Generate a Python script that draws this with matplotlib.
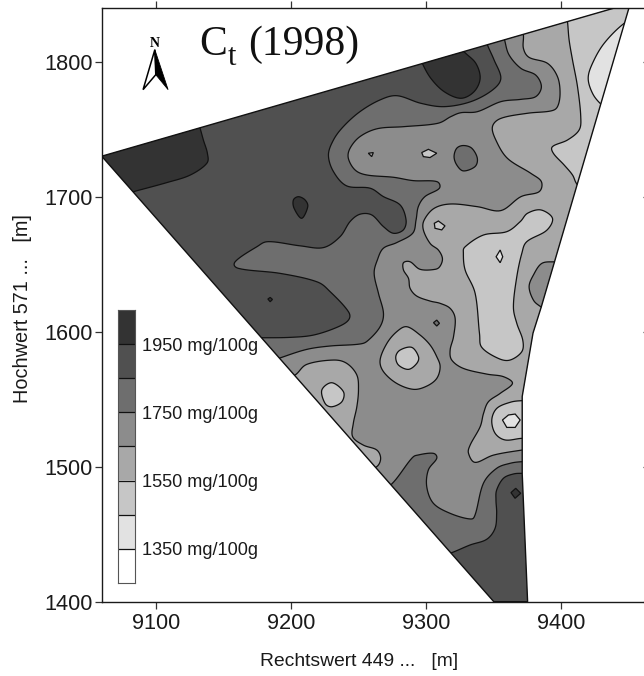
import numpy as np
import matplotlib
matplotlib.use("Agg")
import matplotlib.pyplot as plt
from matplotlib.patches import Polygon

plt.rcParams['font.family'] = ['Liberation Sans', 'DejaVu Sans']

x_ticks = [9100, 9200, 9300, 9400]
y_ticks = [1400, 1500, 1600, 1700, 1800]
legend_edges = [1250, 1350, 1450, 1550, 1650, 1750, 1850, 1950, 2050]
legend_labels = {1350: '1350 mg/100g', 1550: '1550 mg/100g', 1750: '1750 mg/100g', 1950: '1950 mg/100g'}
shades = ['#ffffff', '#e2e2e2', '#c6c6c6', '#a8a8a8', '#8c8c8c', '#6e6e6e', '#505050', '#333333']
S1, S2, S3, S4, S5, S6, S7, S8 = shades

field = [(9060, 1730), (9440, 1840), (9450, 1840), (9385, 1618), (9379, 1599), (9371, 1552),
         (9371, 1495), (9375, 1400), (9350, 1400)]

corner_dark = [(9130, 1760), (9132.7, 1751), (9135.2, 1742), (9138.2, 1732), (9137.7, 1724.7), (9125.4, 1716),
               (9108, 1710.4), (9083.4, 1703.7), (9070, 1700)]
corner_dark_out = [(9040, 1700), (9040, 1760)]

top_dark = [(9295, 1805), (9297, 1799), (9303.4, 1787.7), (9313.3, 1777.8), (9325.6, 1772.9), (9335.4, 1777.8),
            (9339.9, 1787.7), (9336.7, 1798.8), (9328, 1807.4), (9322, 1815)]

s6_upper = [(9343, 1820), (9345.3, 1812.4), (9350.2, 1801.3), (9355.2, 1787.7), (9349, 1779), (9333, 1770.4),
            (9313.3, 1766.7), (9296, 1769.2), (9278.5, 1774.8), (9265.9, 1771.7), (9251, 1763), (9238.7, 1751.9),
            (9231.4, 1742), (9227.7, 1730.9), (9231.4, 1718.6), (9241.2, 1708), (9258.5, 1706.3), (9268.3, 1700.1),
            (9280.7, 1693.9), (9285.1, 1682.8), (9283.1, 1675.4), (9275.7, 1672.9), (9268.3, 1677.9), (9259.7, 1686.5),
            (9251, 1687), (9243.7, 1681.6), (9236.3, 1670.4), (9224, 1662.3), (9206.8, 1663.6), (9183.3, 1666.7),
            (9174.7, 1662.9), (9158.7, 1651.8), (9161.2, 1646.9), (9192, 1643.2), (9219.1, 1637), (9229, 1629.6),
            (9242.5, 1614.8), (9242.5, 1608.6), (9233.9, 1603.2), (9216.6, 1597.5), (9199.4, 1595.8), (9178.4, 1595.5),
            (9165, 1595.5)]
s6_out1 = [(9165, 1590), (9290, 1445), (9305, 1432)]
s6_lower = [(9305, 1432), (9318.8, 1436.3), (9332.4, 1442), (9344.7, 1446.2), (9350.9, 1454.3), (9352.1, 1465.5),
            (9351.6, 1475.3), (9352.1, 1482.7), (9357.1, 1491.4), (9364.5, 1494.6), (9371.4, 1495.1), (9385, 1495)]
s6_out2 = [(9480, 1495), (9480, 1860), (9343, 1860)]

s5_upper = [(9356, 1825), (9358.1, 1815.6), (9361.3, 1805), (9370, 1795.1), (9381, 1790.1), (9385.2, 1781.5),
            (9381, 1774.1), (9370, 1772.1), (9355.2, 1770.4), (9337.9, 1763), (9325.6, 1762.2), (9318.2, 1759.3),
            (9308.3, 1754.3), (9283.7, 1751.9), (9264, 1750.4), (9251, 1744.5), (9243.7, 1735.9), (9242.4, 1728.5),
            (9247.4, 1719.8), (9256, 1716.1), (9275.7, 1714.4), (9290.5, 1711.9), (9307.8, 1711.2), (9309.7, 1706.2),
            (9299.1, 1700.1), (9294.2, 1692.7), (9292.5, 1682.8), (9290, 1672.9), (9278.2, 1666), (9268.3, 1661.8),
            (9263.9, 1653.2), (9261.5, 1643.2), (9264.7, 1628.4), (9268.4, 1613.6), (9265.9, 1603.7), (9257.3, 1593.8),
            (9251.1, 1590.9), (9228.9, 1589.4), (9211.7, 1586.9), (9193.2, 1581), (9180, 1576)]
s5_out1 = [(9175, 1570), (9255, 1478), (9262, 1480)]
s5_lower = [(9262, 1480), (9274.5, 1487.2), (9289.3, 1506.2), (9294.2, 1508.7), (9305.3, 1509.9), (9307.8, 1506.2),
            (9301.6, 1497.6), (9300.4, 1485.2), (9305.3, 1472.9), (9317.6, 1465.5), (9332.4, 1461.3), (9336.1, 1464.2),
            (9342.3, 1487.7), (9352.1, 1498.8), (9362, 1502.5), (9370.6, 1503.7), (9385, 1504)]
s5_out2 = [(9480, 1504), (9480, 1860), (9356, 1860)]

s4_main = [(9370, 1830), (9371.9, 1819.8), (9371.9, 1809.9), (9376.1, 1803.2), (9389.7, 1798.8), (9397.1, 1788.9),
           (9399, 1776.6), (9397.1, 1766.7), (9392.1, 1763.5), (9374.9, 1761.8), (9355.2, 1758), (9349, 1751.9),
           (9351.5, 1742), (9360.1, 1728.4), (9377.4, 1717.3), (9385.2, 1711.1), (9383.5, 1703.7), (9370, 1700),
           (9355.2, 1689.7), (9337.9, 1692.6), (9318.2, 1694.6), (9305.9, 1691.4), (9298.5, 1682.7), (9297.9, 1675.4),
           (9302.9, 1665.4), (9309, 1660.5), (9312, 1654.3), (9310.3, 1648.6), (9306.6, 1646.2), (9295.5, 1646.2),
           (9288.1, 1651.8), (9283.2, 1651.1), (9283.2, 1645.7), (9286.9, 1639.5), (9288.1, 1632.1), (9293, 1626.4),
           (9302.9, 1622.7), (9310.3, 1621), (9317.7, 1617.3), (9321.4, 1609.9), (9320.2, 1596.3), (9317.7, 1586.4),
           (9318.9, 1579), (9327.5, 1572.8), (9344.8, 1568.6), (9357.1, 1566.7), (9363.8, 1561.7), (9354.7, 1554.3),
           (9346, 1548.1), (9342.4, 1539.5), (9339.9, 1529.6), (9332.5, 1516), (9331.3, 1509.9), (9336.2, 1503.2),
           (9349.8, 1508.6), (9370.7, 1512.3), (9385, 1514)]
s4_main_out = [(9480, 1514), (9480, 1860), (9370, 1860)]

s5_right = [(9405, 1652), (9395.3, 1651.8), (9385.5, 1650.6), (9379.3, 1642), (9376.1, 1633.3), (9379.3, 1623.4),
            (9384.7, 1618.5), (9395, 1612)]
s5_right_out = [(9410, 1612), (9410, 1652)]

s4_island = [(9285.6, 1603.7), (9295.5, 1597.5), (9302.9, 1590.1), (9307.8, 1581.5), (9310.3, 1574.1), (9307.8, 1565.4),
             (9300.4, 1559.7), (9290.6, 1557.3), (9278.2, 1561.7), (9268.4, 1570.4), (9265.9, 1579), (9270.9, 1591.3),
             (9278.2, 1600)]
s3_island = [(9277.5, 1581.5), (9280.7, 1586.4), (9289.3, 1588.4), (9294.3, 1581.5), (9293, 1576.5), (9286.9, 1572.1),
             (9279.5, 1575.3)]

s4_lower_left = [(9190, 1562), (9203, 1567.9), (9211.7, 1575.8), (9231.4, 1579), (9241.3, 1576.5), (9248.7, 1567.9),
                 (9249.9, 1556.8), (9248.7, 1544.4), (9246.1, 1532.1), (9245.6, 1522.2), (9253.5, 1516), (9263.4, 1512.4),
                 (9266.3, 1506.2), (9263.4, 1500), (9252, 1495)]
s3_lower_left = [(9222.8, 1556.8), (9230.2, 1562.2), (9238.8, 1555.5), (9237.6, 1548.1), (9230.2, 1544.4), (9225.2, 1546.9)]

s3_big = [(9328.8, 1662.9), (9342.3, 1671.6), (9359.6, 1674.1), (9369.5, 1681.5), (9374.9, 1687.7), (9384.8, 1690.2),
          (9393.4, 1684), (9389, 1675), (9374.4, 1666.7), (9370.7, 1658), (9367, 1640.7), (9364.5, 1618.5),
          (9367, 1606.2), (9371.4, 1593.8), (9370.7, 1585.2), (9362, 1579), (9353.4, 1580.2), (9341.1, 1588.4),
          (9339.4, 1598.8), (9336.2, 1628.4), (9328.8, 1645.7), (9327.5, 1658)]
s2_big = [(9354.7, 1660.5), (9356.6, 1655.5), (9354.7, 1651.1), (9351.7, 1655.5)]

s3_upper_right = [(9403, 1840), (9404.5, 1829.7), (9405.7, 1816.1), (9408.2, 1801.3), (9411.9, 1781.5), (9414.3, 1759.3),
                  (9413.1, 1749.4), (9404.5, 1742), (9393.4, 1737.1), (9394.1, 1732.1), (9402, 1723.5), (9408.2, 1716.1),
                  (9411.4, 1709.4), (9420, 1700)]
s3_upper_right_out = [(9480, 1700), (9480, 1860), (9403, 1860)]
s2_upper_right = [(9460, 1835), (9446.4, 1828.4), (9431.6, 1813.6), (9423, 1798.8), (9419.8, 1787.7), (9423, 1776.6),
                  (9429.1, 1768.7), (9440, 1760)]
s2_upper_right_out = [(9480, 1760), (9480, 1835)]

s3_lower_right = [(9385, 1549), (9370.7, 1548.9), (9362.1, 1547.7), (9352.2, 1543.2), (9348.5, 1534.6), (9351, 1524.7),
                  (9358.4, 1519.8), (9370.7, 1521), (9385, 1521)]
s2_lower_right = [(9356.4, 1534.6), (9360.8, 1538.3), (9365.8, 1539), (9369.5, 1534.6), (9365.8, 1529.1), (9359.6, 1529.1)]

s8_blob_west = [(9201.8, 1697.6), (9205.5, 1700), (9210.4, 1697.6), (9212.4, 1692.6), (9207.9, 1684), (9202.3, 1691.4)]
s8_dot = [(9182.9, 1624.2), (9184.6, 1625.4), (9186.3, 1623.9), (9184.6, 1622.2)]
s8_blob_south = [(9362.7, 1480.8), (9366.2, 1484), (9369.9, 1480.3), (9365.7, 1476.6)]
s6_blob = [(9327.5, 1737.9), (9333.7, 1735.9), (9337.8, 1728.5), (9336.1, 1722.3), (9327.5, 1719.1), (9322.6, 1723.5),
           (9320.6, 1729.7), (9322.6, 1735.9)]
s6_diamond = [(9305.4, 1606.7), (9307.8, 1608.6), (9309.8, 1606.2), (9307.8, 1604.2)]
s3_spot_a = [(9306, 1680.3), (9309, 1682), (9313.9, 1678.4), (9311.5, 1675.4), (9306.5, 1676.6)]
s3_spot_b = [(9296.7, 1732.7), (9301.6, 1735.1), (9307.8, 1732.2), (9302.8, 1729), (9297.9, 1729.7)]
s4_spot = [(9257.2, 1732.2), (9260.9, 1732.7), (9259.7, 1729.7)]


def smooth(points, closed=False, n=10):
    p = np.asarray(points, float)
    if closed:
        p = np.vstack([p[-2:], p, p[:3]])
    d = np.sqrt(np.hypot(*np.diff(p, axis=0).T)) + 1e-6
    t = np.r_[0, np.cumsum(d)]
    m = np.zeros_like(p)
    m[1:-1] = (p[2:] - p[:-2]) / (t[2:] - t[:-2])[:, None]
    m[0] = (p[1] - p[0]) / d[0]
    m[-1] = (p[-1] - p[-2]) / d[-1]
    out = []
    lo, hi = (2, len(p) - 3) if closed else (0, len(p) - 1)
    for i in range(lo, hi):
        h = d[i]
        for u in np.linspace(0, 1, n, endpoint=False):
            a = 2*u**3 - 3*u**2 + 1
            b = u**3 - 2*u**2 + u
            c = -2*u**3 + 3*u**2
            e = u**3 - u**2
            out.append(a*p[i] + b*h*m[i] + c*p[i+1] + e*h*m[i+1])
    if not closed:
        out.append(p[-1])
    return np.array(out)


def ring(*parts):
    """Contour runs are smoothed; the joins outside the field stay straight."""
    rows = []
    for i, part in enumerate(parts):
        rows.append(smooth(part) if i % 2 == 0 else np.asarray(part, float))
    return np.vstack(rows)


layers = [
    (S8, ring(corner_dark, corner_dark_out)),
    (S8, ring(top_dark)),
    (S8, smooth(s8_blob_west, closed=True)),
    (S8, np.array(s8_dot)),
    (S6, ring(s6_upper, s6_out1, s6_lower, s6_out2)),
    (S5, ring(s5_upper, s5_out1, s5_lower, s5_out2)),
    (S6, smooth(s6_blob, closed=True)),
    (S6, np.array(s6_diamond)),
    (S4, ring(s4_main, s4_main_out)),
    (S5, ring(s5_right, s5_right_out)),
    (S4, smooth(s4_island, closed=True)),
    (S4, ring(s4_lower_left)),
    (S4, np.array(s4_spot)),
    (S3, smooth(s3_island, closed=True)),
    (S3, smooth(s3_lower_left, closed=True)),
    (S3, smooth(s3_big, closed=True)),
    (S3, ring(s3_upper_right, s3_upper_right_out)),
    (S3, ring(s3_lower_right)),
    (S3, np.array(s3_spot_a)),
    (S3, np.array(s3_spot_b)),
    (S2, np.array(s2_big)),
    (S2, ring(s2_upper_right, s2_upper_right_out)),
    (S2, np.array(s2_lower_right)),
    (S8, np.array(s8_blob_south)),
]

# ---------- figure ----------
W, H = 644, 676
fig = plt.figure(figsize=(W/100, H/100), dpi=100)
L, R, T, B = 101.7, 649.3, 7.7, 601.7
ax = fig.add_axes([L/W, 1 - B/H, (R - L)/W, (B - T)/H])
ax.set_xlim(9060, 9465)
ax.set_ylim(1400, 1840)

clip = Polygon(field, closed=True, transform=ax.transData, facecolor=S7, edgecolor='none', zorder=1)
ax.add_patch(clip)
for k, (colour, pts) in enumerate(layers):
    poly = Polygon(pts, closed=True, facecolor=colour, edgecolor='#111111', linewidth=0.9, zorder=2 + k*0.01)
    ax.add_patch(poly)
    poly.set_clip_path(clip)
ax.add_patch(Polygon(field, closed=True, facecolor='none', edgecolor='#111111', linewidth=1.0, zorder=3))

ax.set_xticks(x_ticks)
ax.set_yticks(y_ticks)
ax.tick_params(axis='both', which='major', labelsize=15.7, width=0.9, length=5, color='#333333', labelcolor='#1a1a1a')
ax.tick_params(axis='x', top=True, direction='out', pad=3)
ax.tick_params(axis='y', left=True, direction='out', pad=1.5)
for tick in ax.yaxis.get_major_ticks():
    tick.tick2line.set_visible(True)
    tick.tick2line.set_markeredgewidth(0.9)
    tick.tick2line.set_markersize(4.6)
    tick.tick2line.set_marker(0)
    tick.tick2line.set_markeredgecolor('#333333')
for s in ax.spines.values():
    s.set_linewidth(1.0)
    s.set_color('#1a1a1a')

fig.text(359/W, 1 - 661/H, 'Rechtswert 449 ...   [m]', ha='center', va='center', fontsize=13.9, color='#1a1a1a')
fig.text(23/W, 1 - 309/H, 'Hochwert 571 ...   [m]', ha='center', va='center', rotation=90, fontsize=14.3, color='#1a1a1a')

title_kw = dict(family='Liberation Serif', ha='left', va='baseline', color='#111111')
ax.text(9132.3, 1805, 'C', fontsize=30, **title_kw)
ax.text(9153.3, 1797.5, 't', fontsize=22, **title_kw)
ax.text(9168.3, 1805, '(1998)', fontsize=30, **title_kw)

# north arrow
ax.add_patch(Polygon([(9099.3, 1808.9), (9090.6, 1779.3), (9100, 1790.4)], closed=True, facecolor='white',
                     edgecolor='black', linewidth=1.1, zorder=4))
ax.add_patch(Polygon([(9099.3, 1808.9), (9109.1, 1779.3), (9100, 1790.4)], closed=True, facecolor='black',
                     edgecolor='black', linewidth=0.6, zorder=4))
ax.text(9099.5, 1813.5, 'N', family='Liberation Serif', fontweight='bold', fontsize=10, ha='center', va='center',
        color='black', zorder=4)

# legend
lax = fig.add_axes([118.3/W, 1 - 582.8/H, (135 - 118.3)/W, (582.8 - 310)/H])
lax.set_xlim(0, 1)
lax.set_ylim(legend_edges[0], legend_edges[-1])
lax.bar([0.5]*8, np.diff(legend_edges), bottom=legend_edges[:-1], width=1, color=shades, edgecolor='none')
for v in legend_edges[1:-1]:
    lax.axhline(v, color='#111111', lw=0.9)
lax.set_xticks([])
lax.yaxis.tick_right()
lax.set_yticks(list(legend_labels), [legend_labels[v] for v in legend_labels])
lax.tick_params(axis='y', length=0, pad=5, labelsize=13.1, labelcolor='#1a1a1a')
for s in lax.spines.values():
    s.set_linewidth(0.8)
    s.set_color('#555555')

fig.savefig('out.png', dpi=100)
